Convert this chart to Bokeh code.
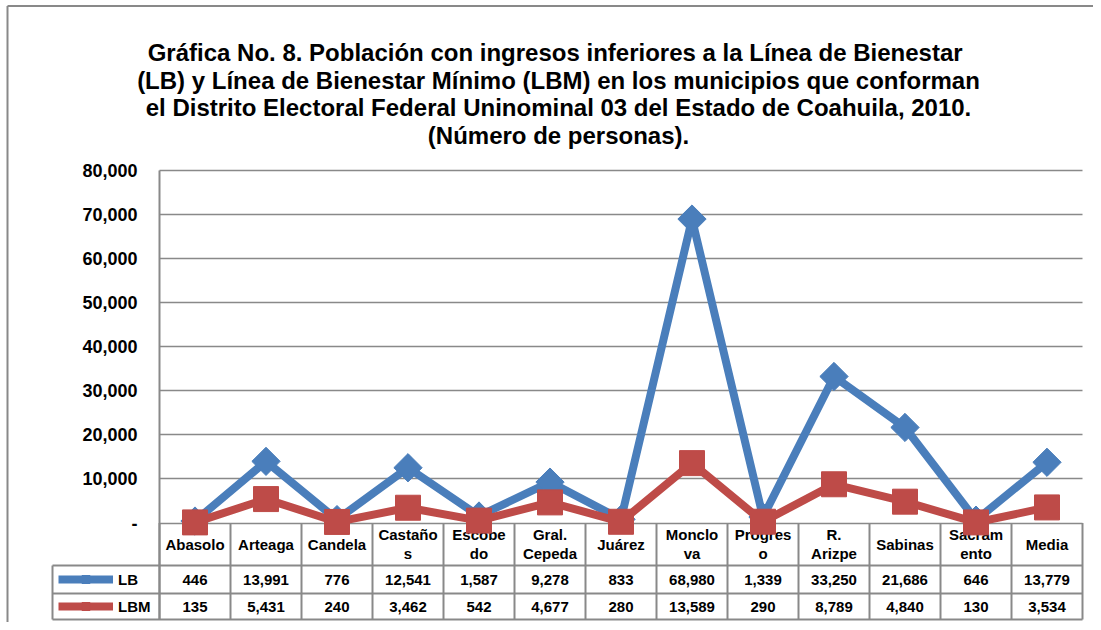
import math
from bokeh.plotting import figure
from bokeh.models import (Range1d, LinearAxis, FixedTicker, NumeralTickFormatter,
                          Grid, ColumnDataSource)
from bokeh.core.properties import value
from bokeh.embed import file_html
from bokeh.resources import INLINE

# ---------------- data ----------------
categories = ["Abasolo", "Arteaga", "Candela", "Castaño\ns", "Escobe\ndo",
              "Gral.\nCepeda", "Juárez", "Monclo\nva", "Progres\no",
              "R.\nArizpe", "Sabinas", "Sacram\nento", "Media"]
lb = [446, 13991, 776, 12541, 1587, 9278, 833, 68980, 1339, 33250, 21686, 646, 13779]
lbm = [135, 5431, 240, 3462, 542, 4677, 280, 13589, 290, 8789, 4840, 130, 3534]
y_ticks = [0, 10000, 20000, 30000, 40000, 50000, 60000, 70000, 80000]
series_names = ["LB", "LBM"]
title_lines = [
    "Gráfica No. 8. Población con ingresos inferiores a la  Línea de Bienestar",
    "(LB) y Línea de Bienestar Mínimo (LBM) en los municipios que conforman",
    "el Distrito Electoral Federal Uninominal 03 del Estado de Coahuila, 2010.",
    "(Número de personas).",
]

# ---------------- style / layout (image pixels) ----------------
FONT = "Liberation Sans"
BLUE = "#4A7EBB"
RED = "#BE4B48"
GRAY = "#898989"
W, H = 1093, 622
f_left, f_right, f_top, f_bottom = 0, W, 0, H
x_zero_px, x_end_px = 159, 1082
y_zero_px, y_top_px = 522.5, 170
n = len(categories)
col_w = (x_end_px - x_zero_px) / n
ppu = (y_zero_px - y_top_px) / y_ticks[-1]

xr = Range1d((f_left - x_zero_px) / col_w, (f_right - x_zero_px) / col_w)
yr = Range1d(-(f_bottom - y_zero_px) / ppu, y_ticks[-1] + (y_top_px - f_top) / ppu)

p = figure(width=W, height=H, x_range=xr, y_range=yr,
           x_axis_type=None, y_axis_type=None,
           output_backend="svg", toolbar_location=None,
           min_border_left=0, min_border_right=0, min_border_top=0, min_border_bottom=0)
p.outline_line_color = None
p.extra_y_ranges = {"px": Range1d(start=f_bottom, end=f_top)}
p.extra_x_ranges = {"px": Range1d(start=f_left, end=f_right)}

# outer chart border (left and top)
p.segment(x0=[7, 7], x1=[7, f_right], y0=[f_bottom, 5.5], y1=[5.5, 5.5],
          x_range_name="px", y_range_name="px", line_color=GRAY, line_width=2)

# title
p.text(x=[558] * len(title_lines), y=[52, 79.5, 107, 135], text=title_lines,
       x_range_name="px", y_range_name="px", text_align="center",
       text_baseline="alphabetic", text_font=value(FONT), text_font_style="bold",
       text_font_size="24px", text_color="black")

# y axis (fixed at first category boundary)
ticker = FixedTicker(ticks=y_ticks)
yaxis = LinearAxis(fixed_location=0, ticker=ticker,
                   formatter=NumeralTickFormatter(format="0,0"),
                   major_label_overrides={0: "-"},
                   major_tick_in=0, major_tick_out=0,
                   major_tick_line_color=None, minor_tick_line_color=None,
                   major_label_standoff=22,
                   axis_line_color=GRAY, axis_line_width=2,
                   bounds=(-(619 - y_zero_px) / ppu, y_ticks[-1]),
                   major_label_text_font=FONT, major_label_text_font_size="18px",
                   major_label_text_font_style="bold", major_label_text_color="black")
p.add_layout(yaxis, "left")
grid = Grid(dimension=1, ticker=ticker, grid_line_color=GRAY, grid_line_width=1.5,
            cross_bounds=(0, n))
p.add_layout(grid, "center")

xs = [i + 0.5 for i in range(n)]

# ---------------- data table ----------------
leg_x = (52 - x_zero_px) / col_w
row_lines = [565, 593, 619]
p.segment(x0=[leg_x] * len(row_lines), x1=[n] * len(row_lines), y0=row_lines, y1=row_lines,
          y_range_name="px", line_color=GRAY, line_width=2)
p.segment(x0=list(range(n + 1)), x1=list(range(n + 1)),
          y0=[y_zero_px] * (n + 1), y1=[619] * (n + 1),
          y_range_name="px", line_color=GRAY, line_width=2)
p.segment(x0=[leg_x], x1=[leg_x], y0=[565], y1=[619], y_range_name="px",
          line_color=GRAY, line_width=2)

txt = dict(y_range_name="px", text_align="center", text_baseline="middle",
           text_font=value(FONT), text_font_style="bold", text_font_size="15px",
           text_color="black")
p.text(x=xs, y=[543.5] * n, text=categories, text_line_height=1.13, **txt)
p.text(x=xs, y=[579] * n, text=[f"{v:,}" for v in lb], **txt)
p.text(x=xs, y=[606] * n, text=[f"{v:,}" for v in lbm], **txt)

# ---------------- series ----------------
src = ColumnDataSource(dict(x=xs, lb=lb, lbm=lbm))
p.line("x", "lb", source=src, line_color=BLUE, line_width=8, line_join="round",
       legend_label=series_names[0])
p.scatter("x", "lb", source=src, marker="square", angle=math.pi / 4, size=20,
          fill_color=BLUE, line_color=BLUE, legend_label=series_names[0])
p.line("x", "lbm", source=src, line_color=RED, line_width=8, line_join="round",
       legend_label=series_names[1])
p.scatter("x", "lbm", source=src, marker="square", size=25,
          fill_color=RED, line_color=RED, legend_label=series_names[1])

lg = p.legend[0]
lg.location = (58 - f_left, f_bottom - 616)
lg.orientation = "vertical"
lg.glyph_width = 55
lg.glyph_height = 20
lg.label_height = 20
lg.spacing = 7
lg.padding = 0
lg.margin = 0
lg.label_standoff = 5
lg.border_line_color = None
lg.background_fill_alpha = 0
lg.label_text_font = FONT
lg.label_text_font_style = "bold"
lg.label_text_font_size = "15px"
lg.label_text_color = "black"

open("out.html", "w").write(file_html(p, INLINE))
